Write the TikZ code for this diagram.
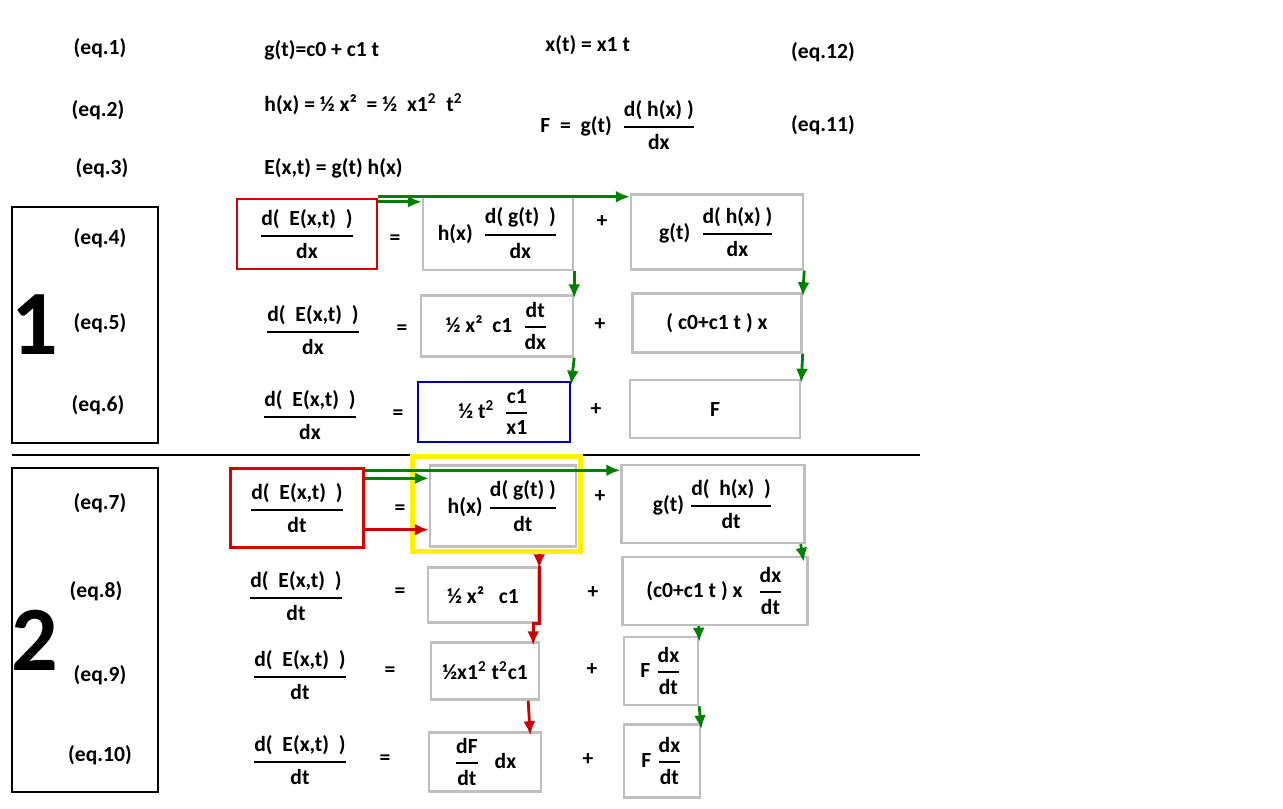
\documentclass[tikz,border=0pt]{standalone}
\usepackage{amsmath}
\usepackage{fontspec}
\setmainfont{Carlito}
\usetikzlibrary{arrows.meta,positioning}
\newcommand{\fr}[2]{$\genfrac{}{}{1.1pt}{0}{\text{\bfseries #1}}{\text{\bfseries #2}}$}
\tikzset{
  txt/.style={font=\bfseries\fontsize{10.8}{12}\selectfont, inner sep=1pt},
  lt/.style={txt, anchor=west},
  gbox/.style={txt, draw=black!25, line width=1.2pt},
  rbox/.style={txt, draw=red!85!black, line width=1.2pt},
  bbox/.style={txt, draw=blue!70!black, line width=1.2pt},
  ybox/.style={draw=yellow, line width=2.5pt},
  garr/.style={draw=green!50!black, line width=1.4pt, -{Latex[length=7pt,width=6pt]}},
  rarr/.style={draw=red!80!black, line width=1.4pt, -{Latex[length=7pt,width=6pt]}},
  big/.style={font=\bfseries\fontsize{46}{48}\selectfont}
}
\begin{document}
\begin{tikzpicture}[x=0.5pt,y=-0.5pt]
	\useasboundingbox (0,0) rectangle (1283,808);
	% top equations
	\node[txt] (e1) at (100,48) {(eq.1)};
	\node[lt] (g) at (262,50) {g(t)=c0 + c1 t};
	\node[lt] (xt) at (543,45) {x(t) = x1 t};
	\node[txt] (e12) at (823,52) {(eq.12)};
	\node[txt] (e2) at (98,110) {(eq.2)};
	\node[lt] (h) at (262,104) {h(x) = ½ x²\ \ = ½\ \ x1$^{\mathbf 2}$\ \ t$^{\mathbf 2}$};
	\node[lt] (F) at (538,125) {F\ \ =\ \ g(t)\ \ \fr{d( h(x) )}{dx}};
	\node[txt] (e11) at (823,125) {(eq.11)};
	\node[txt] (e3) at (102,168) {(eq.3)};
	\node[lt] (E) at (262,168) {E(x,t) = g(t) h(x)};
	% part 1
	\draw[line width=0.6pt] (12,207) rectangle (158,443);
	\node[big] (n1) at (35,325) {1};
	\node[txt] (e4) at (100,238) {(eq.4)};
	\node[txt] (e5) at (100,323) {(eq.5)};
	\node[txt] (e6) at (98,405) {(eq.6)};
	\node[rbox, minimum width=70pt, minimum height=35pt] (l4) at (307,234) {\fr{d(\ \ E(x,t)\ \ )}{dx}};
	\node[txt] (q4) at (395,240) {=};
	\node[gbox, minimum width=75pt, minimum height=37pt] (a4) at (498,233) {h(x)\ \ \fr{d( g(t)\ \ )}{dx}};
	\node[txt] (p4) at (602,222) {+};
	\node[gbox, minimum width=86pt, minimum height=37.5pt] (b4) at (717,232) {g(t)\ \ \fr{d( h(x) )}{dx}};
	\node[txt] (l5) at (313,330) {\fr{d(\ \ E(x,t)\ \ )}{dx}};
	\node[txt] (q5) at (402,330) {=};
	\node[gbox, minimum width=76pt, minimum height=30.5pt] (a5) at (497,326) {½ x²\ \ c1\ \ \fr{dt}{dx}};
	\node[txt] (p5) at (600,325) {+};
	\node[gbox, minimum width=84.5pt, minimum height=29.5pt] (b5) at (717,323) {( c0+c1 t ) x\hspace{25pt}};
	\node[txt] (l6) at (310,415) {\fr{d(\ \ E(x,t)\ \ )}{dx}};
	\node[txt] (q6) at (398,415) {=};
	\node[bbox, minimum width=76pt, minimum height=30pt] (a6) at (494,412) {½ t$^{\mathbf 2}$\ \ \fr{c1}{x1}};
	\node[txt] (p6) at (596,410) {+};
	\node[gbox, minimum width=85pt, minimum height=29pt] (b6) at (715,409) {F};
	\draw[garr] ([yshift=-2pt]l4.north east) -- ([yshift=-2pt]l4.north east -| a4.west);
	\draw[garr] ([yshift=0.5pt]l4.north east) -- ([yshift=0.5pt]l4.north east -| b4.west);
	\draw[garr] (a4.south east) -- ([yshift=-2pt]a5.north east);
	\draw[garr] (a5.south east) -- ([yshift=-2pt]a6.north east);
	\draw[garr] (b4.south east) -- ([yshift=-2pt]b5.north east);
	\draw[garr] (b5.south east) -- ([yshift=-2pt]b6.north east);
	% separator
	\draw[line width=0.6pt] (12,455) -- (920,455);
	% part 2
	\draw[line width=0.6pt] (12,468) rectangle (158,792);
	\node[big] (n2) at (35,640) {2};
	\node[txt] (e7) at (100,503) {(eq.7)};
	\node[txt] (e8) at (96,591) {(eq.8)};
	\node[txt] (e9) at (100,675) {(eq.9)};
	\node[txt] (e10) at (100,755) {(eq.10)};
	\node[rbox, minimum width=66.5pt, minimum height=39.5pt] (l7) at (297,508) {\fr{d(\ \ E(x,t)\ \ )}{dt}};
	\node[txt] (q7) at (400,510) {=};
	\node[gbox, minimum width=73pt, minimum height=40.5pt] (a7) at (503,506) {h(x) \fr{d( g(t) )}{dt}};
	\node[ybox, minimum width=84pt, minimum height=47.5pt] (y7) at (496,504) {};
	\node[txt] (p7) at (600,497) {+};
	\node[gbox, minimum width=91.5pt, minimum height=39pt] (b7) at (713,504) {g(t) \fr{d(\ \ h(x)\ \ )}{dt}\hspace{15pt}};
	\node[txt] (l8) at (296,596) {\fr{d(\ \ E(x,t)\ \ )}{dt}};
	\node[txt] (q8) at (400,593) {=};
	\node[gbox, minimum width=55pt, minimum height=27.5pt] (a8) at (483,595) {½ x²\ \ \ c1\hspace{12pt}};
	\node[txt] (p8) at (593,593) {+};
	\node[gbox, minimum width=92.5pt, minimum height=34pt] (b8) at (715,591) {(c0+c1 t ) x\ \ \ \fr{dx}{dt}};
	\node[txt] (l9) at (300,675) {\fr{d(\ \ E(x,t)\ \ )}{dt}};
	\node[txt] (q9) at (390,672) {=};
	\node[gbox, minimum width=54pt, minimum height=28.5pt] (a9) at (485,671) {½x1$^{\mathbf 2}$ t$^{\mathbf 2}$c1};
	\node[txt] (p9) at (592,670) {+};
	\node[gbox, minimum width=37pt, minimum height=34pt] (b9) at (661,671) {F \fr{dx}{dt}};
	\node[txt] (l10) at (300,760) {\fr{d(\ \ E(x,t)\ \ )}{dt}};
	\node[txt] (q10) at (385,760) {=};
	\node[gbox, minimum width=56pt, minimum height=29.5pt] (a10) at (485,762) {\fr{dF}{dt}\ \ \ dx\hspace{10pt}};
	\node[txt] (p10) at (588,760) {+};
	\node[gbox, minimum width=38pt, minimum height=36.5pt] (b10) at (662,761) {F \fr{dx}{dt}};
	\draw[garr] ([yshift=-1.5pt]l7.north east) -- ([yshift=-1.5pt]l7.north east -| b7.west);
	\draw[garr] ([yshift=-5.5pt]l7.north east) -- ([yshift=-5.5pt]l7.north east -| a7.west);
	\draw[rarr] ([yshift=9.5pt]l7.south east) -- ([yshift=9.5pt]l7.south east -| a7.west);
	\draw[rarr] (y7.south -| a8.east) -- ([yshift=-1pt]a8.north east);
	\draw[rarr] (a8.north east) -- (a8.south east) -| ([xshift=-3.5pt,yshift=-2pt]a9.north east);
	\draw[rarr] ([xshift=-6pt]a9.south east) -- ([xshift=-6pt,yshift=-2pt]a10.north east);
	\draw[garr] ([xshift=-2.5pt]b7.south east) -- ([xshift=-2.5pt,yshift=-3pt]b8.north east);
	\draw[garr] ([xshift=-55pt]b8.south east) -- ([yshift=-3pt]b9.north east);
	\draw[garr] (b9.south east) -- ([yshift=-3pt]b10.north east);
\end{tikzpicture}
\end{document}
